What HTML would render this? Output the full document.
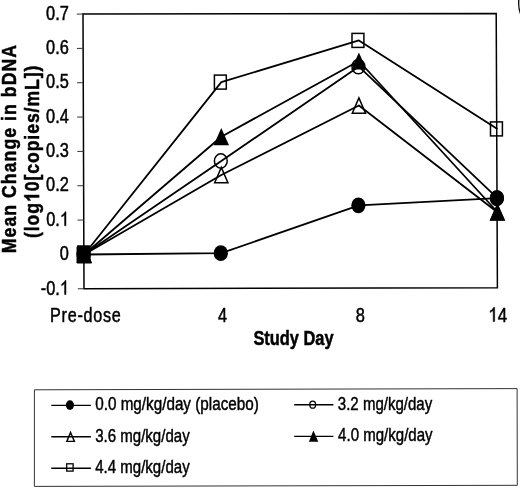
<!DOCTYPE html>
<html><head><meta charset="utf-8"><title>chart</title>
<style>html,body{margin:0;padding:0;background:#fff}svg{display:block;filter:grayscale(1)}text{font-family:"Liberation Sans",sans-serif;fill:#000;stroke:#000;stroke-width:0.5px;stroke-linejoin:round}</style></head><body>
<svg width="520" height="491" viewBox="0 0 520 491">
<rect width="520" height="491" fill="#fff"/>
<polygon points="83.0,14.0 496.2,13.4 497.4,287.8 84.0,288.7" fill="none" stroke="#000" stroke-width="1.5" stroke-linejoin="miter"/>
<line x1="76.80" y1="14.10" x2="83.00" y2="14.00" stroke="#333" stroke-width="1.0"/>
<text transform="translate(68.8 19.8) scale(0.84 1)" font-size="19.5" text-anchor="end">0.7</text>
<line x1="76.92" y1="48.44" x2="83.12" y2="48.34" stroke="#333" stroke-width="1.0"/>
<text transform="translate(68.8 54.14) scale(0.84 1)" font-size="19.5" text-anchor="end">0.6</text>
<line x1="77.05" y1="82.77" x2="83.25" y2="82.67" stroke="#333" stroke-width="1.0"/>
<text transform="translate(68.8 88.47) scale(0.84 1)" font-size="19.5" text-anchor="end">0.5</text>
<line x1="77.17" y1="117.11" x2="83.38" y2="117.01" stroke="#333" stroke-width="1.0"/>
<text transform="translate(68.8 122.81) scale(0.84 1)" font-size="19.5" text-anchor="end">0.4</text>
<line x1="77.30" y1="151.45" x2="83.50" y2="151.35" stroke="#333" stroke-width="1.0"/>
<text transform="translate(68.8 157.15) scale(0.84 1)" font-size="19.5" text-anchor="end">0.3</text>
<line x1="77.42" y1="185.79" x2="83.62" y2="185.69" stroke="#333" stroke-width="1.0"/>
<text transform="translate(68.8 191.49) scale(0.84 1)" font-size="19.5" text-anchor="end">0.2</text>
<line x1="77.55" y1="220.12" x2="83.75" y2="220.02" stroke="#333" stroke-width="1.0"/>
<g transform="translate(69.0 225.82) scale(0.84 1)">
<text x="-27.105" font-size="19.5">0.</text>
<path transform="translate(-10.842 0) scale(0.009521)" d="M763 0H583V-1147Q518 -1085 412.5 -1023Q307 -961 223 -930V-1104Q374 -1175 487 -1276Q600 -1377 647 -1472H763Z" fill="#000" stroke="#000" stroke-width="52.5" stroke-linejoin="round"/>
</g>
<line x1="77.67" y1="254.46" x2="83.88" y2="254.36" stroke="#333" stroke-width="1.0"/>
<text transform="translate(68.8 260.16) scale(0.84 1)" font-size="19.5" text-anchor="end">0</text>
<line x1="77.80" y1="288.80" x2="84.00" y2="288.70" stroke="#333" stroke-width="1.0"/>
<g transform="translate(69.0 294.5) scale(0.84 1)">
<text x="-33.599" font-size="19.5">-0.</text>
<path transform="translate(-10.842 0) scale(0.009521)" d="M763 0H583V-1147Q518 -1085 412.5 -1023Q307 -961 223 -930V-1104Q374 -1175 487 -1276Q600 -1377 647 -1472H763Z" fill="#000" stroke="#000" stroke-width="52.5" stroke-linejoin="round"/>
</g>
<text transform="translate(50.0 322.4) scale(0.81 1)" font-size="20" text-anchor="start" letter-spacing="0.9">Pre-dose</text>
<text transform="translate(222.6 322.2) scale(0.82 1)" font-size="20" text-anchor="middle">4</text>
<text transform="translate(360.3 321.9) scale(0.82 1)" font-size="20" text-anchor="middle">8</text>
<g transform="translate(497.8 321.6) scale(0.85 1)">
<path transform="translate(-11.120 0) scale(0.009766)" d="M763 0H583V-1147Q518 -1085 412.5 -1023Q307 -961 223 -930V-1104Q374 -1175 487 -1276Q600 -1377 647 -1472H763Z" fill="#000" stroke="#000" stroke-width="51.2" stroke-linejoin="round"/>
<text x="0.000" font-size="20">4</text>
</g>
<text transform="translate(253.4 345.4) scale(0.82 1)" font-size="20" text-anchor="start" font-weight="bold" style="stroke-width:0.5px">Study Day</text>
<text transform="translate(16.0 253.2) rotate(-90) scale(0.856 1)" font-size="20.6" text-anchor="start" font-weight="bold" letter-spacing="1.25" style="stroke-width:0.5px">Mean Change in bDNA</text>
<g transform="translate(39.1 238.0) rotate(-90) scale(0.856 1)">
<text x="0.000" font-size="20.6" font-weight="bold" letter-spacing="1.08" style="stroke-width:0.5px">(log</text>
<path transform="translate(42.080 0) scale(0.010059)" d="M806 0H525V-1059Q371 -915 162 -846V-1101Q272 -1137 401 -1237.5Q530 -1338 578 -1472H806Z" fill="#000" stroke="#000" stroke-width="49.7" stroke-linejoin="round"/>
<text x="54.613" font-size="20.6" font-weight="bold" letter-spacing="1.08" style="stroke-width:0.5px">0[copies/mL])</text>
</g>
<polyline points="84.2,254.5 221.3,253.2 358.9,205.3 497.4,198.2" fill="none" stroke="#000" stroke-width="1.8" stroke-linejoin="round"/>
<polyline points="84.2,254.5 221.3,161.0 358.9,66.6 497.4,198.2" fill="none" stroke="#000" stroke-width="1.8" stroke-linejoin="round"/>
<polyline points="84.2,254.5 221.3,175.0 358.9,105.5 497.4,212.2" fill="none" stroke="#000" stroke-width="1.8" stroke-linejoin="round"/>
<polyline points="84.2,254.5 221.3,136.7 358.9,61.0 497.4,212.0" fill="none" stroke="#000" stroke-width="1.8" stroke-linejoin="round"/>
<polyline points="84.2,254.5 221.3,82.1 358.9,40.4 497.4,128.9" fill="none" stroke="#000" stroke-width="1.8" stroke-linejoin="round"/>
<ellipse cx="83.70" cy="254.50" rx="7.1" ry="7.9" fill="#000"/>
<ellipse cx="220.80" cy="253.20" rx="7.1" ry="7.9" fill="#000"/>
<ellipse cx="358.40" cy="205.30" rx="7.1" ry="7.9" fill="#000"/>
<ellipse cx="496.90" cy="198.20" rx="7.1" ry="7.9" fill="#000"/>
<ellipse cx="83.70" cy="254.50" rx="6.4" ry="7.2" fill="none" stroke="#000" stroke-width="1.5"/>
<ellipse cx="220.80" cy="161.00" rx="6.4" ry="7.2" fill="none" stroke="#000" stroke-width="1.5"/>
<ellipse cx="358.40" cy="66.60" rx="6.4" ry="7.2" fill="none" stroke="#000" stroke-width="1.5"/>
<ellipse cx="496.90" cy="198.20" rx="6.4" ry="7.2" fill="none" stroke="#000" stroke-width="1.5"/>
<polygon points="84.20,246.90 90.80,262.20 77.60,262.20" fill="none" stroke="#000" stroke-width="1.5" stroke-linejoin="miter"/>
<polygon points="221.30,167.40 227.90,182.70 214.70,182.70" fill="none" stroke="#000" stroke-width="1.5" stroke-linejoin="miter"/>
<polygon points="358.90,97.90 365.50,113.20 352.30,113.20" fill="none" stroke="#000" stroke-width="1.5" stroke-linejoin="miter"/>
<polygon points="497.40,204.60 504.00,219.90 490.80,219.90" fill="none" stroke="#000" stroke-width="1.5" stroke-linejoin="miter"/>
<polygon points="84.20,245.90 91.90,263.00 76.50,263.00" fill="#000"/>
<polygon points="221.30,128.10 229.00,145.20 213.60,145.20" fill="#000"/>
<polygon points="358.90,52.40 366.60,69.50 351.20,69.50" fill="#000"/>
<polygon points="497.40,203.40 505.10,220.50 489.70,220.50" fill="#000"/>
<rect x="77.30" y="247.50" width="11.9" height="14.0" fill="none" stroke="#000" stroke-width="1.5"/>
<rect x="214.40" y="75.10" width="11.9" height="14.0" fill="none" stroke="#000" stroke-width="1.5"/>
<rect x="352.00" y="33.40" width="11.9" height="14.0" fill="none" stroke="#000" stroke-width="1.5"/>
<rect x="490.50" y="121.90" width="11.9" height="14.0" fill="none" stroke="#000" stroke-width="1.5"/>
<path d="M77.1,245.3 H89.9 V255 L91.6,263.4 H77.1 Z" fill="#000"/>
<path d="M518.9,-1 Q518.0,8 520.8,14.8" fill="none" stroke="#000" stroke-width="1.3"/>
<polygon points="34.4,389.8 517.1,388.6 517.3,485.3 34.4,486.4" fill="none" stroke="#333" stroke-width="1.0"/>
<line x1="51.3" y1="405.4" x2="90.9" y2="405.4" stroke="#000" stroke-width="1.4"/>
<ellipse cx="69.9" cy="405.1" rx="4.1" ry="4.8" fill="#000"/>
<text transform="translate(95.2 410.3) scale(0.848 1)" font-size="18" text-anchor="start" style="stroke-width:0.45px">0.0 mg/kg/day (placebo)</text>
<line x1="51.3" y1="436.8" x2="90.9" y2="436.8" stroke="#000" stroke-width="1.4"/>
<polygon points="70.6,432.4 74.4,441.4 66.8,441.4" fill="none" stroke="#000" stroke-width="1.4"/>
<text transform="translate(95.2 442.2) scale(0.836 1)" font-size="18" text-anchor="start" style="stroke-width:0.45px">3.6 mg/kg/day</text>
<line x1="51.3" y1="468.3" x2="90.9" y2="468.3" stroke="#000" stroke-width="1.4"/>
<rect x="66.7" y="463.8" width="6.4" height="7.3" fill="none" stroke="#000" stroke-width="1.3"/>
<text transform="translate(95.2 473.4) scale(0.836 1)" font-size="18" text-anchor="start" style="stroke-width:0.45px">4.4 mg/kg/day</text>
<line x1="294.2" y1="404.8" x2="333.4" y2="404.8" stroke="#000" stroke-width="1.4"/>
<ellipse cx="312.7" cy="404.7" rx="2.9" ry="3.5" fill="none" stroke="#000" stroke-width="1.3"/>
<text transform="translate(337.8 409.7) scale(0.836 1)" font-size="18" text-anchor="start" style="stroke-width:0.45px">3.2 mg/kg/day</text>
<line x1="294.2" y1="436.4" x2="333.4" y2="436.4" stroke="#000" stroke-width="1.4"/>
<polygon points="313.4,430.6 318.3,441.8 308.9,441.8" fill="#000"/>
<text transform="translate(338.1 441.3) scale(0.836 1)" font-size="18" text-anchor="start" style="stroke-width:0.45px">4.0 mg/kg/day</text>
</svg></body></html>
